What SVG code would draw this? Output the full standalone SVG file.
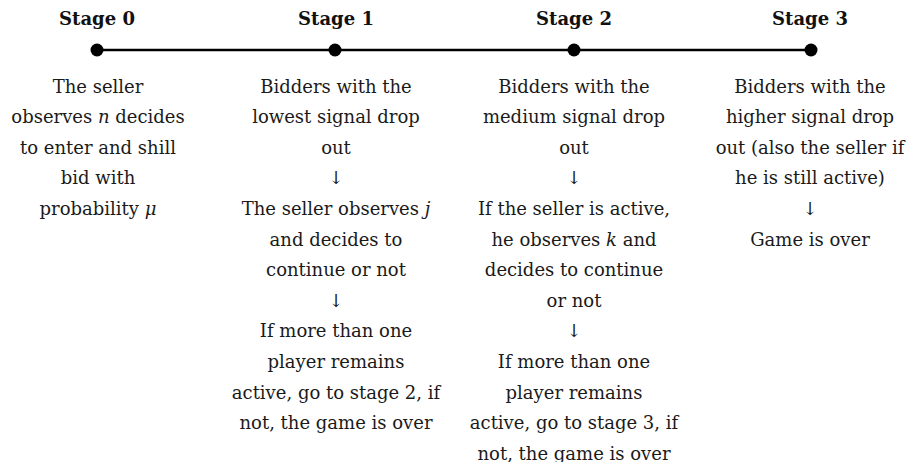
<svg xmlns="http://www.w3.org/2000/svg" width="913" height="462" viewBox="0 0 913 462">
<style>
.h{font-family:"DejaVu Serif","Liberation Serif",serif;font-weight:bold;font-size:18px;fill:#111;text-anchor:middle}
.t{font-family:"DejaVu Serif","Liberation Serif",serif;font-size:18px;fill:#1a1a1a;text-anchor:middle}
.i{font-style:italic}
.dot{fill:#000}
</style>
<rect width="913" height="462" fill="#fff"/>
<g id="connectors">
<line x1="97" y1="50" x2="811" y2="50" stroke="#000" stroke-width="2.5"/>
</g>
<g id="stage0">
<text class="h" x="97" y="25">Stage 0</text>
<circle class="dot" cx="97" cy="50" r="6.5"/>
<text class="t" x="98" y="92.5">The seller</text>
<text class="t" x="98" y="123.1">observes <tspan class="i">n</tspan> decides</text>
<text class="t" x="98" y="153.7">to enter and shill</text>
<text class="t" x="98" y="184.3">bid with</text>
<text class="t" x="98" y="214.9">probability <tspan class="i">μ</tspan></text>
</g>
<g id="stage1">
<text class="h" x="336" y="25">Stage 1</text>
<circle class="dot" cx="335" cy="50" r="6.5"/>
<text class="t" x="336" y="92.5">Bidders with the</text>
<text class="t" x="336" y="123.1">lowest signal drop</text>
<text class="t" x="336" y="153.7">out</text>
<text class="t" x="336" y="184.3">↓</text>
<text class="t" x="336" y="214.9">The seller observes <tspan class="i">j</tspan></text>
<text class="t" x="336" y="245.5">and decides to</text>
<text class="t" x="336" y="276.1">continue or not</text>
<text class="t" x="336" y="306.7">↓</text>
<text class="t" x="336" y="337.3">If more than one</text>
<text class="t" x="336" y="367.9">player remains</text>
<text class="t" x="336" y="398.5">active, go to stage 2, if</text>
<text class="t" x="336" y="429.1">not, the game is over</text>
</g>
<g id="stage2">
<text class="h" x="574" y="25">Stage 2</text>
<circle class="dot" cx="574" cy="50" r="6.5"/>
<text class="t" x="574" y="92.5">Bidders with the</text>
<text class="t" x="574" y="123.1">medium signal drop</text>
<text class="t" x="574" y="153.7">out</text>
<text class="t" x="574" y="184.3">↓</text>
<text class="t" x="574" y="214.9">If the seller is active,</text>
<text class="t" x="574" y="245.5">he observes <tspan class="i">k</tspan> and</text>
<text class="t" x="574" y="276.1">decides to continue</text>
<text class="t" x="574" y="306.7">or not</text>
<text class="t" x="574" y="337.3">↓</text>
<text class="t" x="574" y="367.9">If more than one</text>
<text class="t" x="574" y="398.5">player remains</text>
<text class="t" x="574" y="429.1">active, go to stage 3, if</text>
<text class="t" x="574" y="459.7">not, the game is over</text>
</g>
<g id="stage3">
<text class="h" x="810" y="25">Stage 3</text>
<circle class="dot" cx="811" cy="50" r="6.5"/>
<text class="t" x="810" y="92.5">Bidders with the</text>
<text class="t" x="810" y="123.1">higher signal drop</text>
<text class="t" x="810" y="153.7">out (also the seller if</text>
<text class="t" x="810" y="184.3">he is still active)</text>
<text class="t" x="810" y="214.9">↓</text>
<text class="t" x="810" y="245.5">Game is over</text>
</g>
</svg>
